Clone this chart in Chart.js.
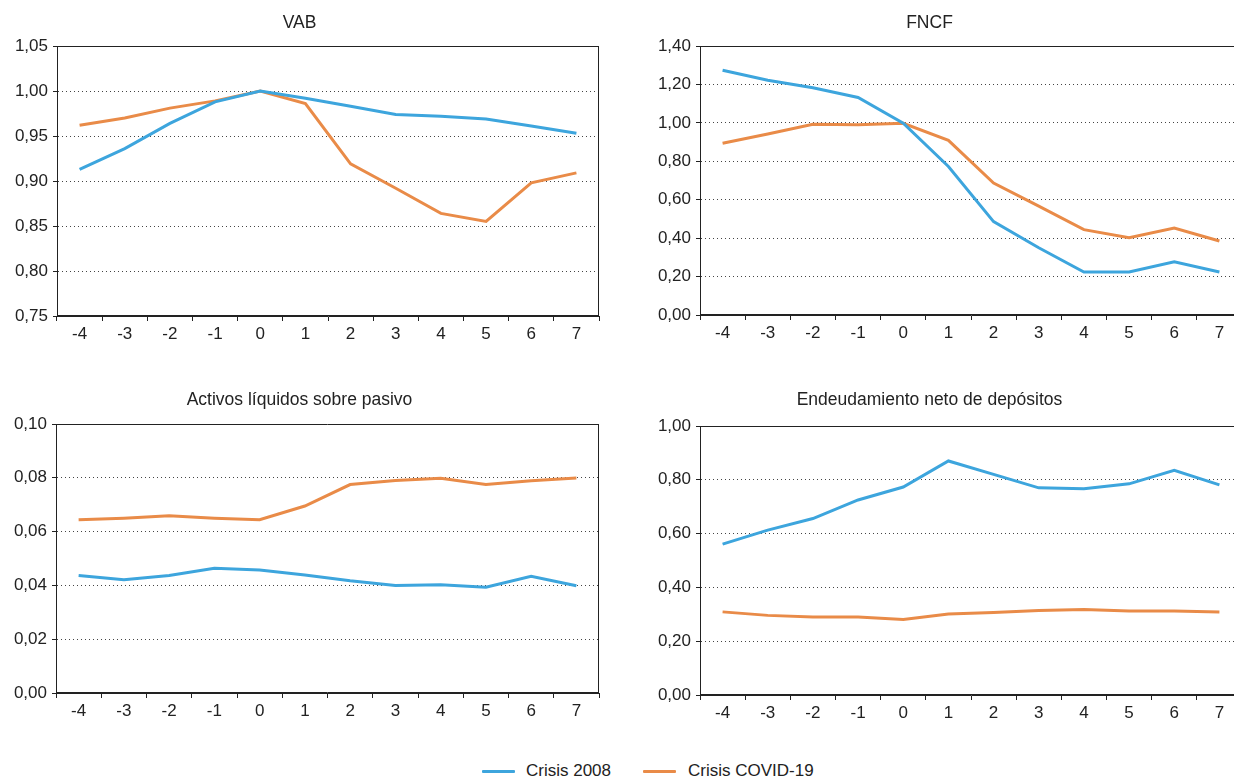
<!DOCTYPE html>
<html>
<head>
<meta charset="utf-8">
<script src="https://cdn.jsdelivr.net/npm/chart.js@4.4.0/dist/chart.umd.min.js"></script>
<style>
  html, body { margin: 0; padding: 0; background: #fff; width: 1234px; height: 778px; overflow: hidden; position: relative; }
  canvas { position: absolute; }
  .legend { position: absolute; top: 760px; left: 0; width: 1234px; height: 22px; font-family: "Liberation Sans", Arial, sans-serif; font-size: 17px; color: #222; }
  .legend .ln { position: absolute; top: 10px; height: 3px; width: 33px; border-radius: 1px; }
  .legend .tx { position: absolute; top: 0; line-height: 22px; white-space: nowrap; }
</style>
</head>
<body>
<canvas id="c1" width="614" height="345" style="left:0;top:0"></canvas>
<canvas id="c2" width="694" height="345" style="left:617px;top:0"></canvas>
<canvas id="c3" width="614" height="345" style="left:0;top:380px"></canvas>
<canvas id="c4" width="694" height="345" style="left:617px;top:380px"></canvas>
<div class="legend">
  <span class="ln" style="left:482px;background:#3DA5DD"></span><span class="tx" style="left:526px">Crisis 2008</span>
  <span class="ln" style="left:643px;background:#E98B48"></span><span class="tx" style="left:688px">Crisis COVID-19</span>
</div>
<script>
const categories = ["-4","-3","-2","-1","0","1","2","3","4","5","6","7"];
const seriesNames = ["Crisis 2008", "Crisis COVID-19"];

const vab2008  = [0.913, 0.936, 0.964, 0.988, 1.000, 0.992, 0.983, 0.974, 0.972, 0.969, 0.961, 0.953];
const vabCovid = [0.962, 0.970, 0.981, 0.989, 1.000, 0.986, 0.919, 0.892, 0.864, 0.855, 0.898, 0.909];

const fncf2008  = [1.274, 1.222, 1.183, 1.132, 0.998, 0.773, 0.486, 0.350, 0.224, 0.224, 0.277, 0.224];
const fncfCovid = [0.894, 0.942, 0.993, 0.990, 0.998, 0.909, 0.687, 0.567, 0.444, 0.402, 0.453, 0.385];

const activos2008  = [0.0437, 0.0421, 0.0437, 0.0464, 0.0457, 0.0439, 0.0417, 0.0400, 0.0402, 0.0393, 0.0434, 0.0399];
const activosCovid = [0.0644, 0.0650, 0.0659, 0.0650, 0.0644, 0.0695, 0.0775, 0.0790, 0.0798, 0.0775, 0.0789, 0.0799];

const endeud2008  = [0.561, 0.613, 0.656, 0.725, 0.773, 0.870, 0.820, 0.770, 0.767, 0.785, 0.835, 0.781];
const endeudCovid = [0.309, 0.296, 0.290, 0.290, 0.281, 0.301, 0.307, 0.314, 0.318, 0.312, 0.312, 0.309];

const titles = ["VAB", "FNCF", "Activos líquidos sobre pasivo", "Endeudamiento neto de depósitos"];
const yRanges = [
  {min: 0.75, max: 1.05, step: 0.05},
  {min: 0.00, max: 1.40, step: 0.20},
  {min: 0.00, max: 0.10, step: 0.02},
  {min: 0.00, max: 1.00, step: 0.20}
];

const BLUE = "#3DA5DD", ORANGE = "#E98B48";
const FONT = "'Liberation Sans', Arial, sans-serif";
Chart.defaults.font.family = FONT;
Chart.defaults.color = "#222";

const framePlugin = {
  id: "frame",
  afterDraw(chart) {
    const a = chart.chartArea, ctx = chart.ctx;
    ctx.save();
    ctx.setLineDash([]);
    ctx.strokeStyle = "#222";
    ctx.lineWidth = 1;
    ctx.beginPath();
    ctx.moveTo(a.left, Math.round(a.top) + 0.5);
    ctx.lineTo(a.right, Math.round(a.top) + 0.5);
    ctx.moveTo(Math.round(a.right) - 0.5, a.top);
    ctx.lineTo(Math.round(a.right) - 0.5, a.bottom);
    ctx.moveTo(Math.round(a.left) + 0.5, a.top);
    ctx.lineTo(Math.round(a.left) + 0.5, a.bottom);
    ctx.moveTo(a.left, Math.round(a.bottom) - 0.5);
    ctx.lineTo(a.right, Math.round(a.bottom) - 0.5);
    ctx.stroke();
    ctx.restore();
  }
};

function fmt(v, dec) { return v.toFixed(dec).replace(".", ","); }

function makeChart(id, title, s1, s2, range, opt) {
  new Chart(document.getElementById(id), {
    type: "line",
    data: {
      labels: categories,
      datasets: [
        {label: seriesNames[0], data: s1, borderColor: BLUE, backgroundColor: BLUE, borderWidth: 3, pointRadius: 0, tension: 0},
        {label: seriesNames[1], data: s2, borderColor: ORANGE, backgroundColor: ORANGE, borderWidth: 3, pointRadius: 0, tension: 0}
      ]
    },
    options: {
      responsive: false,
      animation: false,
      devicePixelRatio: 1,
      layout: {padding: {left: 0, right: opt.padRight, top: 0, bottom: 0}},
      plugins: {
        legend: {display: false},
        tooltip: {enabled: false},
        title: {display: true, text: title, color: "#222", font: {size: 17.5, weight: "normal", family: FONT}, padding: {top: opt.tTop, bottom: opt.tBot}}
      },
      scales: {
        x: {
          offset: true,
          grid: {offset: true, drawOnChartArea: false, drawTicks: true, tickLength: 5, tickColor: "#222", color: "#222"},
          border: {display: true, color: "#222", width: 1},
          ticks: {font: {size: 17}, color: "#222", padding: 3, maxRotation: 0, autoSkip: false},
          afterFit: (s) => { s.height = opt.xH; }
        },
        y: {
          min: range.min, max: range.max,
          grid: {color: "#444", lineWidth: 1, tickLength: 4, tickColor: "#222", tickBorderDash: [0, 0]},
          border: {display: true, color: "#222", width: 1, dash: [1, 3]},
          ticks: {stepSize: range.step, font: {size: 17}, color: "#222", padding: 5, callback: (v) => fmt(v, 2)},
          afterFit: (s) => { s.width = opt.yW; }
        }
      }
    },
    plugins: [framePlugin]
  });
}

makeChart("c1", titles[0], vab2008, vabCovid, yRanges[0], {padRight: 15, tTop: 13, tBot: 12, xH: 29, yW: 57});
makeChart("c2", titles[1], fncf2008, fncfCovid, yRanges[1], {padRight: 69, tTop: 13, tBot: 12, xH: 30, yW: 83});
makeChart("c3", titles[2], activos2008, activosCovid, yRanges[2], {padRight: 15, tTop: 10, tBot: 13, xH: 32, yW: 56});
makeChart("c4", titles[3], endeud2008, endeudCovid, yRanges[3], {padRight: 69, tTop: 10, tBot: 15, xH: 30, yW: 83});
</script>
</body>
</html>
